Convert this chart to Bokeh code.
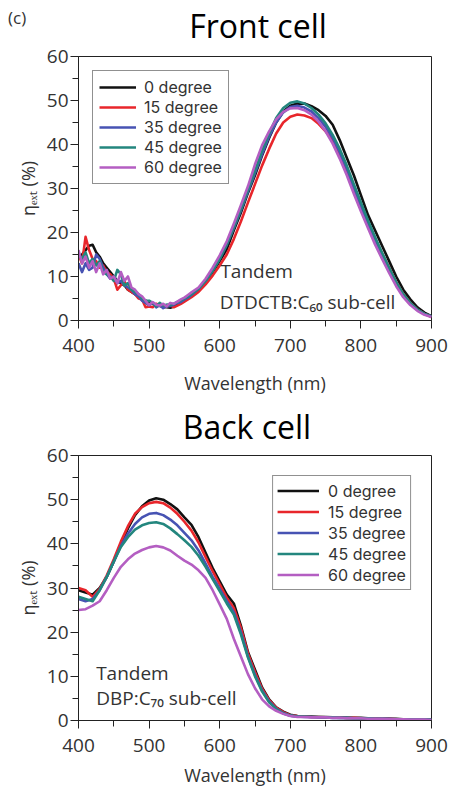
from bokeh.plotting import figure
from bokeh.models import Legend, LegendItem, Label, SingleIntervalTicker, Range1d, Div
from bokeh.layouts import column
from bokeh.embed import file_html
from bokeh.resources import INLINE

# ---------------- data ----------------
series_labels = ["0 degree", "15 degree", "35 degree", "45 degree", "60 degree"]
series_colors = ["#111111", "#e8262b", "#4753b3", "#23867e", "#b45ec2"]

# Front cell (DTDCTB:C60 sub-cell): 400-560 nm every 5 nm, 570-900 nm every 10 nm
front_wl = list(range(400, 561, 5)) + list(range(570, 901, 10))
front_0 = [14.5, 15, 16, 17, 17.2, 15.5, 14.5, 13, 12, 11, 10, 9, 8.5, 8, 7, 6.5, 6, 5.5, 5, 4.5,
           4, 3.8, 3.5, 3.3, 3.2, 3, 2.9, 3.2, 3.6, 4, 4.5, 5, 5.6,
           7, 8.8, 11, 13.5, 16.2, 20.5, 24.5, 29, 33, 37.5, 41.5, 45, 47.5, 48.8, 49.3, 49.3, 48.7,
           47.8, 46.5, 44.5, 41, 37, 33, 28.5, 24, 20.5, 17, 13.5, 10, 7, 4.8, 3, 1.8, 1]
front_15 = [15, 13, 19, 16, 14, 13.5, 12, 12.5, 11, 10.5, 9.5, 7, 8, 9, 7, 6.5, 6, 5, 4.8, 3,
            3.2, 3, 3.8, 3.5, 3, 3.2, 3.5, 3, 3.4, 3.8, 4.3, 4.8, 5.3,
            6.5, 8.2, 10.2, 12.5, 15, 18.5, 22.5, 26.8, 31, 35.2, 39, 42.5, 45, 46.3, 46.8, 46.6, 46,
            44.7, 43, 40.8, 37.8, 34, 30, 26, 22.2, 18.7, 15.2, 12, 8.8, 6, 4, 2.5, 1.5, 0.8]
front_35 = [13, 11, 13, 11.5, 12, 15, 14, 12, 10.5, 9.5, 10, 8.5, 9, 8, 7.5, 7, 6, 5.5, 4.5, 4,
            3.5, 4, 3, 3.5, 2.8, 3.2, 3.3, 3.6, 4, 4.2, 4.8, 5.2, 5.8,
            7.2, 9, 11.3, 14, 17.2, 21, 25, 29.3, 33.5, 37.8, 41.8, 45, 47.3, 48.5, 48.8, 48.4, 47.5,
            46, 44, 41.5, 38.2, 34.5, 30.2, 26, 22, 18.3, 14.8, 11.5, 8.3, 5.7, 3.8, 2.4, 1.5, 0.9]
front_45 = [15, 14, 15.5, 13, 14, 12.5, 13.5, 11, 10.5, 10, 9, 11.5, 10.5, 8, 8.5, 7, 6.5, 6, 5, 4.5,
            4.5, 4, 3.2, 4, 3.4, 3.6, 3.5, 3.8, 4.2, 4.6, 5, 5.5, 6,
            7.2, 9, 11.3, 14, 17.3, 21.2, 25.3, 29.7, 34, 38.5, 42.5, 46, 48.3, 49.5, 49.8, 49.3, 48.3,
            46.8, 44.8, 42.2, 39, 35.2, 31, 26.8, 22.8, 19, 15.4, 12, 8.8, 6, 4, 2.5, 1.5, 0.9]
front_60 = [16, 13, 14.5, 12, 13.5, 11, 13, 10.5, 11.5, 9.5, 10, 8.5, 11, 9, 10, 7.5, 7, 6, 5.5, 4.5,
            3.5, 4.2, 3.6, 3.4, 3.8, 3.2, 4, 3.8, 4.3, 4.8, 5.2, 5.8, 6.4,
            7.5, 9.5, 12, 14.8, 18, 22, 26.2, 30.5, 35.5, 39.8, 43, 45.7, 47.4, 48.2, 48.3, 47.8, 46.8,
            45.2, 43, 40.2, 36.8, 33, 28.8, 24.8, 21, 17.3, 14, 10.8, 7.8, 5.3, 3.5, 2.2, 1.3, 0.8]

# Back cell (DBP:C70 sub-cell): 400-900 nm every 10 nm
back_wl = list(range(400, 901, 10))
back_0 = [29.5, 29, 28.5, 30, 32.5, 36, 40, 43.5, 46.5, 48.5, 49.8, 50.3, 50, 49, 47.8, 46, 44.3,
          41.5, 38, 34.5, 31.5, 28.5, 26.5, 21.5, 15.5, 11.5, 7.5, 4.8, 3, 2, 1.3,
          1, 0.9, 0.9, 0.8, 0.8, 0.7, 0.7, 0.6, 0.6, 0.6, 0.5, 0.5, 0.4, 0.4, 0.4, 0.3, 0.3, 0.3, 0.2, 0.2]
back_15 = [30, 29.5, 28, 29.8, 32.8, 36.5, 40.5, 44, 46.8, 48.3, 49.2, 49.5, 49.2, 48.2, 46.8, 45, 43,
           40.3, 37, 33.8, 30.8, 27.8, 25.5, 21, 15.2, 11, 7.2, 4.6, 2.9, 1.9, 1.2,
           1, 0.9, 0.8, 0.8, 0.7, 0.7, 0.7, 0.6, 0.6, 0.5, 0.5, 0.5, 0.4, 0.4, 0.3, 0.3, 0.3, 0.2, 0.2, 0.2]
back_35 = [27.5, 27, 27.5, 29.5, 32.5, 36, 39.5, 42.3, 44.5, 46, 46.8, 47, 46.5, 45.5, 44.2, 42.5, 40.8,
           38.5, 35.5, 32.5, 29.8, 27, 24.5, 20, 14.5, 10.3, 6.8, 4.3, 2.7, 1.7, 1.1,
           0.9, 0.8, 0.8, 0.7, 0.7, 0.6, 0.6, 0.6, 0.5, 0.5, 0.5, 0.4, 0.4, 0.4, 0.3, 0.3, 0.3, 0.2, 0.2, 0.2]
back_45 = [28, 27.5, 27, 29.5, 32.5, 36, 39.3, 41.5, 43.2, 44.2, 44.7, 44.9, 44.5, 43.5, 42.2, 40.8, 39.3,
           37.3, 34.8, 32, 29.3, 26.5, 24, 19.5, 14.3, 10, 6.6, 4.1, 2.6, 1.6, 1.1,
           0.9, 0.9, 0.8, 0.8, 0.7, 0.7, 0.6, 0.6, 0.5, 0.5, 0.5, 0.4, 0.4, 0.3, 0.3, 0.3, 0.3, 0.2, 0.2, 0.2]
back_60 = [25, 25.2, 26, 27, 29.5, 32.3, 34.8, 36.5, 37.8, 38.6, 39.2, 39.5, 39.2, 38.5, 37.3, 36.2, 35.3,
           34, 32.3, 29.5, 26.3, 23, 18.5, 14.5, 10.5, 7.3, 4.8, 3.2, 2.2, 1.5, 1,
           0.8, 0.8, 0.7, 0.7, 0.7, 0.6, 0.6, 0.5, 0.5, 0.5, 0.4, 0.4, 0.4, 0.3, 0.3, 0.3, 0.2, 0.2, 0.2, 0.1]

x_ticks_interval = 100
y_ticks_interval = 10

FONT = "Open Sans"
LEG_FONT = "Inter"
TXT = "#333333"


def make_panel(wl, ys, width, height, borders, xlab_standoff, legend_cfg, notes):
    bl, br, bt, bb = borders
    p = figure(width=width, height=height, x_range=Range1d(400, 900), y_range=Range1d(0, 60),
               output_backend="svg", toolbar_location=None, title=None,
               min_border_left=bl, min_border_right=br, min_border_top=bt, min_border_bottom=bb)

    p.xgrid.visible = False
    p.ygrid.visible = False
    p.outline_line_color = "#222222"
    p.outline_line_width = 1
    p.background_fill_color = "white"
    p.border_fill_color = "white"

    p.xaxis.ticker = SingleIntervalTicker(interval=x_ticks_interval, num_minor_ticks=2)
    p.yaxis.ticker = SingleIntervalTicker(interval=y_ticks_interval, num_minor_ticks=2)
    for ax in (p.xaxis[0], p.yaxis[0]):
        ax.axis_line_color = "#222222"
        ax.major_tick_line_color = "#222222"
        ax.minor_tick_line_color = "#222222"
        ax.major_tick_in = 0
        ax.major_tick_out = 8
        ax.minor_tick_in = 0
        ax.minor_tick_out = 6
        ax.major_label_text_font = FONT
        ax.major_label_text_font_size = "19px"
        ax.major_label_text_color = TXT
        ax.axis_label_text_font = FONT
        ax.axis_label_text_font_size = "18px"
        ax.axis_label_text_font_style = "normal"
        ax.axis_label_text_color = TXT
    p.xaxis.axis_label = "Wavelength (nm)"
    p.yaxis.axis_label = "ηₑₓₜ (%)"
    p.xaxis.major_label_standoff = 10
    p.xaxis.axis_label_standoff = xlab_standoff
    p.yaxis.major_label_standoff = 2
    p.yaxis.axis_label_standoff = 4

    items = []
    for lab, col, y in zip(series_labels, series_colors, ys):
        r = p.line(wl, y, line_color=col, line_width=2.6, line_join="round")
        items.append(LegendItem(label=lab, renderers=[r]))

    loc, margin, lab_h, pad, gw, stand = legend_cfg
    leg = Legend(items=items, location=loc)
    leg.margin = margin
    leg.padding = pad
    leg.spacing = 0
    leg.glyph_width = gw
    leg.glyph_height = lab_h
    leg.label_height = lab_h
    leg.label_standoff = stand
    leg.label_text_font = LEG_FONT
    leg.label_text_font_size = "16px"
    leg.label_text_color = TXT
    leg.border_line_color = "#222222"
    leg.border_line_width = 1
    leg.background_fill_color = "white"
    leg.background_fill_alpha = 1
    p.add_layout(leg)

    for (tx, ty, tt) in notes:
        p.add_layout(Label(x=tx, y=ty, text=tt, text_font=FONT, text_font_size="19px",
                           text_color=TXT, text_baseline="middle", text_align="left"))
    return p


def overlay_text(text, left, top, width, size, color, align="left"):
    lh = round(size * 1.375)
    html = ('<div style="width:%dpx;text-align:%s;font-family:\'Open Sans\';font-size:%dpx !important;'
            'line-height:%dpx;color:%s;white-space:nowrap;margin:0;padding:0">%s</div>'
            % (width, align, size, lh, color, text))
    return Div(text=html, width=width, height=lh,
               styles={"position": "absolute", "left": "%dpx" % left, "top": "%dpx" % top,
                       "z-index": "10", "margin": "0", "padding": "0",
                       "font-size": "%dpx" % size, "font-family": "Open Sans"})


p1 = make_panel(front_wl, [front_0, front_15, front_35, front_45, front_60],
                452, 398, (74, 21, 56, 78), 16, ("top_left", 14, 20, 6, 37, 8),
                [(601, 11.2, "Tandem"), (600, 4.2, "DTDCTB:C₆₀ sub-cell")])

p2 = make_panel(back_wl, [back_0, back_15, back_35, back_45, back_60],
                452, 392, (78, 18, 57, 70), 8, ("top_right", 20, 21, 4, 42, 9),
                [(425, 10.8, "Tandem"), (425, 5.0, "DBP:C₇₀ sub-cell")])

title_front = overlay_text("Front cell", 158, 3, 200, 32, "#000000", "center")
title_back = overlay_text("Back cell", 147, 404, 200, 32, "#000000", "center")
tag_c = overlay_text("(c)", 8, 6, 60, 17, "#333333")

layout = column(title_front, title_back, tag_c, p1, p2, spacing=0)
open("out.html", "w").write(file_html(layout, INLINE))
